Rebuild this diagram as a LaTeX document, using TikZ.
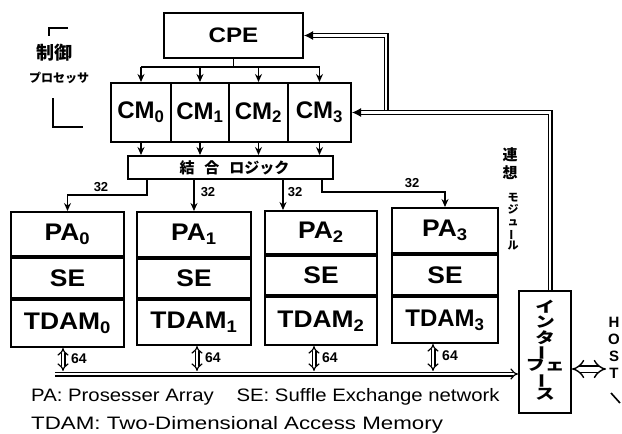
\documentclass[tikz,border=0pt]{standalone}
\usepackage{fontspec}
\setmainfont{Liberation Sans}
\newfontfamily\jp{Noto Sans CJK JP}
\usetikzlibrary{arrows.meta}
\newcommand\sbs[1]{\textsubscript{#1}}
\newcommand\vbar{\rotatebox[origin=c]{90}{ー}}
\newcommand\wide[1]{\scalebox{1.1}[1]{#1}}
\begin{document}
\begin{tikzpicture}[x=1pt,y=-1pt,
  box/.style={draw,line width=2pt,inner sep=0pt,anchor=north west},
  cell/.style={draw,line width=2pt,inner sep=0pt,anchor=north west,font=\bfseries\fontsize{24}{24}\selectfont},
  arr/.style={line width=1.6pt,-{Stealth[length=8pt,width=7pt]}},
  wire/.style={line width=1.6pt},
  dbl/.style={double,double distance=2.6pt,line width=1.2pt},
  dbltip/.style={dbl,-{Latex[length=9pt,width=9pt]}},
  bidbl/.style={dbl,{Implies}-{Implies}},
  lbl/.style={font=\bfseries\fontsize{13}{13}\selectfont,inner sep=0pt}]
\useasboundingbox (0,0) rectangle (622,434);

% control processor label
\node[font=\jp\bfseries\fontsize{18}{18}\selectfont,inner sep=0pt] (ctl1) at (54,53) {制御};
\node[font=\jp\bfseries\fontsize{12}{12}\selectfont,inner sep=0pt] (ctl2) at (59,78) {プロセッサ};
\draw[line width=2pt] (68,28) -- (49,28) -- (49,36);
\draw[line width=2pt] (53,98) -- (53,127) -- (83,127);

% CPE and CMs
\node[box,minimum width=139pt,minimum height=45pt,font=\bfseries\fontsize{21}{21}\selectfont] (cpe) at (163,12) {\scalebox{1.15}[1]{CPE}};
\node[box,minimum width=60pt,minimum height=59pt,font=\bfseries\fontsize{24}{24}\selectfont] (cm0) at (110,82) {CM\sbs{0}};
\node[box,minimum width=58pt,minimum height=59pt,font=\bfseries\fontsize{24}{24}\selectfont] (cm1) at (170,82) {CM\sbs{1}};
\node[box,minimum width=59pt,minimum height=59pt,font=\bfseries\fontsize{24}{24}\selectfont] (cm2) at (228,82) {CM\sbs{2}};
\node[box,minimum width=63pt,minimum height=59pt,font=\bfseries\fontsize{24}{24}\selectfont] (cm3) at (287,82) {CM\sbs{3}};

\coordinate (cb) at (0,67);
\draw[wire] (cpe.south) -- (cpe.south |- cb);
\draw[wire] (cm0.north |- cb) -- (cm3.north |- cb);
\foreach \i in {0,...,3} \draw[arr] (cm\i.north |- cb) -- (cm\i.north);

% coupling logic
\node[box,minimum width=205pt,minimum height=23pt,font=\jp\bfseries\fontsize{15}{15}\selectfont] (logic) at (127,155) {\hspace{8pt}結\hspace{10pt}合\hspace{10pt}ロジック};
\foreach \i in {0,...,3} \draw[arr] (cm\i.south) -- (cm\i.south |- logic.north);

% PA columns
\node[cell,minimum width=113pt,minimum height=44pt] (pa0) at (10,211) {\wide{PA\sbs{0}}};
\node[cell,minimum width=113pt,minimum height=40pt] (se0) at (pa0.south west) {\wide{SE}};
\node[cell,minimum width=113pt,minimum height=47pt] (td0) at (se0.south west) {\wide{TDAM\sbs{0}}};

\node[cell,minimum width=114pt,minimum height=45pt] (pa1) at (136,211) {\wide{PA\sbs{1}}};
\node[cell,minimum width=114pt,minimum height=39pt] (se1) at (pa1.south west) {\wide{SE}};
\node[cell,minimum width=114pt,minimum height=45pt] (td1) at (se1.south west) {\wide{TDAM\sbs{1}}};

\node[cell,minimum width=112pt,minimum height=43pt] (pa2) at (264,210) {\wide{PA\sbs{2}}};
\node[cell,minimum width=112pt,minimum height=39pt] (se2) at (pa2.south west) {\wide{SE}};
\node[cell,minimum width=112pt,minimum height=48pt] (td2) at (se2.south west) {\wide{TDAM\sbs{2}}};

\node[cell,minimum width=106pt,minimum height=45pt] (pa3) at (391,207) {\wide{PA\sbs{3}}};
\node[cell,minimum width=106pt,minimum height=40pt] (se3) at (pa3.south west) {\wide{SE}};
\node[cell,minimum width=106pt,minimum height=46pt] (td3) at (se3.south west) {TDAM\sbs{3}};

% logic -> PA (32 bit)
\coordinate (j0) at (147,195);
\coordinate (j3) at (322,192);
\draw[arr] (logic.south -| j0) -- (j0) -| (pa0.north);
\draw[arr] (logic.south -| pa1.north) -- (pa1.north);
\draw[arr] (logic.south -| 283,0) -- (pa2.north -| 283,0);
\draw[arr] (logic.south -| j3) -- (j3) -| (pa3.north);
\node[lbl] (l32a) at (101,187) {32};
\node[lbl] (l32b) at (208,192) {32};
\node[lbl] (l32c) at (295,192) {32};
\node[lbl] (l32d) at (412,183) {32};

% interface
\node[box,minimum width=52pt,minimum height=122pt,align=center,font=\jp\bfseries\fontsize{15}{14.5}\selectfont] (intf) at (518,290) {\scalebox{1.3}[1]{\begin{tabular}{@{}c@{}}イ\\[-1.5pt]ン\\[-1.5pt]タ\\[-1.5pt]\vbar\\[-1.5pt]フェ\\[-1.5pt]\vbar\\[-1.5pt]ス\end{tabular}}};

% bus
\coordinate (busL) at (55,374);
\coordinate (bt) at (0,371);
\draw[dbl,-{Implies[length=9pt,width=16pt]}] (busL) -- (intf.west |- busL);
\draw[bidbl] (td0.south -| 63,0) -- (bt -| 63,0);
\draw[bidbl] (td1.south -| 197,0) -- (bt -| 197,0);
\draw[bidbl] (td2.south -| 314,0) -- (bt -| 314,0);
\draw[bidbl] (td3.south -| 433,0) -- (bt -| 433,0);
\node[lbl,font=\bfseries\fontsize{14}{14}\selectfont] (l64a) at (79,359) {64};
\node[lbl,font=\bfseries\fontsize{14}{14}\selectfont] (l64b) at (213,358) {64};
\node[lbl,font=\bfseries\fontsize{14}{14}\selectfont] (l64c) at (330,358) {64};
\node[lbl,font=\bfseries\fontsize{14}{14}\selectfont] (l64d) at (450,356) {64};

% associative module label
\node[font=\jp\bfseries\fontsize{15}{18}\selectfont,align=center,inner sep=0pt] (assoc1) at (510,164) {連\\想};
\node[font=\jp\bfseries\fontsize{11}{12}\selectfont,align=center,inner sep=0pt] (assoc2) at (513,222) {モ\\ジ\\ュ\\\vbar\\ル};

% feedback double lines
\coordinate (c1) at (550,0);
\coordinate (c2) at (386,0);
\draw[dbltip] (intf.north -| c1) |- (cm3.east);
\draw[dbltip] ([yshift=2.5pt]cm3.east -| c2) |- (cpe.east);

% host
\coordinate (hostA) at (606,369);
\draw[double,double distance=5pt,line width=1.4pt,{Implies}-{Implies}] (intf.east |- hostA) -- (hostA);
\node[font=\bfseries\fontsize{15}{17}\selectfont,align=center,inner sep=0pt] (host) at (614,348) {H\\O\\S\\T};
\draw[wire] (611,393) -- (620,403);

% legend
\node[anchor=west,inner sep=0pt,font=\fontsize{18}{18}\selectfont] (leg1) at (31,397) {\scalebox{1.13}[1]{PA: Prosesser Array\hspace{20pt}SE: Suffle Exchange network}};
\node[anchor=west,inner sep=0pt,font=\fontsize{18}{18}\selectfont] (leg2) at (31,425) {\scalebox{1.24}[1]{TDAM: Two-Dimensional Access Memory}};
\end{tikzpicture}
\end{document}
